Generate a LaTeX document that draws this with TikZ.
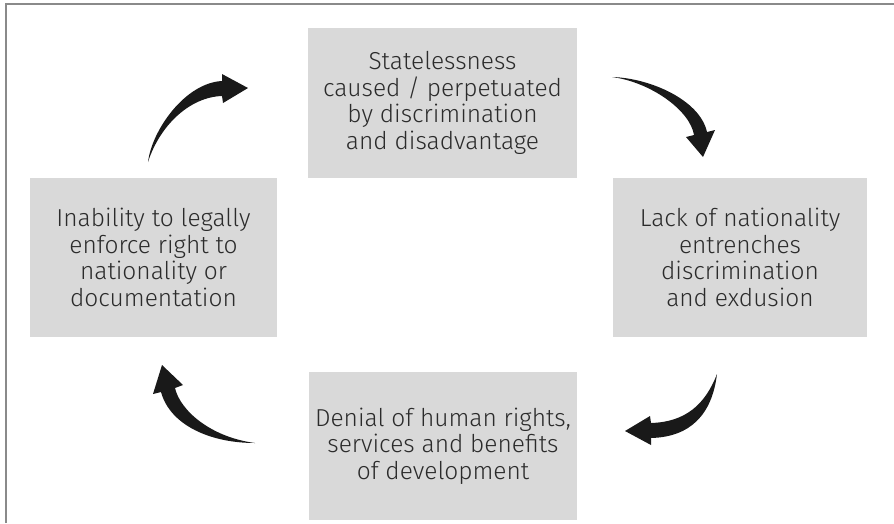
\documentclass[tikz,border=0pt]{standalone}
\usepackage{fontspec}
\setmainfont{Fira Sans}[UprightFont=* Light]
\usepackage{tikz}
\usetikzlibrary{positioning}

\definecolor{boxgray}{HTML}{D9D9D9}
\definecolor{textgray}{HTML}{2B2B2B}
\definecolor{framegray}{HTML}{8A8A8A}

\tikzset{
    stagebox/.style={rectangle, fill=boxgray, text=textgray, align=center,
        inner sep=0pt, font=\fontsize{24.5}{26.5}\selectfont},
    cyclearrow/.style={fill=black!90, draw=none}
}

\begin{document}
\begin{tikzpicture}[x=1pt, y=-1pt]
    \useasboundingbox (0,0) rectangle (894,523);

    % frame (top and left edge only)
    \coordinate (fa) at (6,523);
    \coordinate (fb) at (6,4);
    \coordinate (fc) at (894,4);
    \draw[framegray, line width=2pt] (fa) -- (fb) -- (fc);

    % the four stages
    \node[stagebox, minimum width=269pt, minimum height=150pt] (state) at (442.5,103)
        {Statelessness\\caused / perpetuated\\by discrimination\\and disadvantage};
    \node[stagebox, minimum width=254pt, minimum height=159pt] (lack) at (740,257.5)
        {Lack of nationality\\entrenches\\discrimination\\and exdusion};
    \node[stagebox, minimum width=268pt, minimum height=148pt] (denial) at (443,446)
        {Denial of human rights,\\services and benefits\\of development};
    \node[stagebox, minimum width=247pt, minimum height=159pt] (inability) at (153.5,257.5)
        {Inability to legally\\enforce right to\\nationality or\\documentation};

    % arrows between the stages
    \fill[cyclearrow] (148,162) .. controls (152,130) and (185,83) .. (222,81)
        -- (222,74) -- (248,88) -- (223,103) -- (222,96)
        .. controls (190,97) and (160,125) .. (148,162) -- cycle;
    \fill[cyclearrow] (612,77) .. controls (650,78) and (700,100) .. (707,132)
        -- (715,130) -- (703,157) -- (686,137) -- (694,135)
        .. controls (690,110) and (650,82) .. (612,77) -- cycle;
    \fill[cyclearrow] (717,374) .. controls (712,415) and (690,437) .. (651,438)
        -- (651,445) -- (625,431) -- (650,416) -- (651,423)
        .. controls (685,422) and (705,405) .. (717,374) -- cycle;
    \fill[cyclearrow] (255,443) .. controls (210,443) and (170,425) .. (161,392)
        -- (153,394) -- (162,365) -- (183,385) -- (175,388)
        .. controls (180,410) and (210,437) .. (255,443) -- cycle;
\end{tikzpicture}
\end{document}
